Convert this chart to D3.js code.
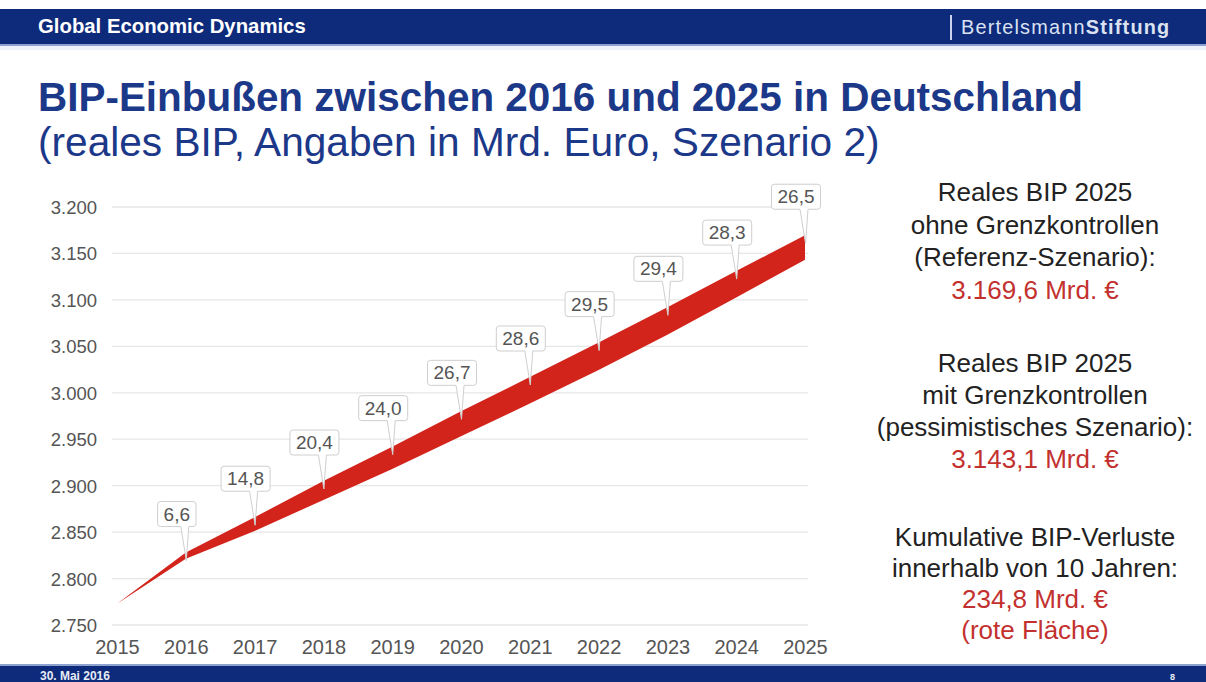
<!DOCTYPE html>
<html lang="de">
<head>
<meta charset="utf-8">
<title>BIP-Einbußen zwischen 2016 und 2025 in Deutschland</title>
<script src="https://cdn.jsdelivr.net/npm/d3@7"></script>
<style>
  html, body { margin: 0; padding: 0; background: #fff; }
  svg { display: block; }
  text { font-family: "Liberation Sans", Arial, Helvetica, sans-serif; }
</style>
</head>
<body>
<svg id="chart" width="1206" height="682"></svg>
<script>
// Jahre der Projektion
const years = [2015, 2016, 2017, 2018, 2019, 2020, 2021, 2022, 2023, 2024, 2025];
// Reales BIP ohne Grenzkontrollen (Referenz-Szenario), Mrd. Euro
const referenceGdp = [2773, 2828, 2866, 2905, 2942, 2980, 3017, 3054, 3092, 3131, 3169.6];
// Jährliche BIP-Einbußen durch Grenzkontrollen (Szenario 2), Mrd. Euro
const lossYears = [2016, 2017, 2018, 2019, 2020, 2021, 2022, 2023, 2024, 2025];
const losses = [6.6, 14.8, 20.4, 24.0, 26.7, 28.6, 29.5, 29.4, 28.3, 26.5];
// Achsenbeschriftungen
const yTicks = [2750, 2800, 2850, 2900, 2950, 3000, 3050, 3100, 3150, 3200];
const xTicks = years;
// Textblöcke rechts neben dem Diagramm
const sideBlocks = [
  { lines: ["Reales BIP 2025", "ohne Grenzkontrollen", "(Referenz-Szenario):"], value: "3.169,6 Mrd. €" },
  { lines: ["Reales BIP 2025", "mit Grenzkontrollen", "(pessimistisches Szenario):"], value: "3.143,1 Mrd. €" },
  { lines: ["Kumulative BIP-Verluste", "innerhalb von 10 Jahren:"], value: "234,8 Mrd. €", note: "(rote Fläche)" }
];

const de = d3.formatLocale({ decimal: ",", thousands: ".", grouping: [3], currency: ["", " €"] });
const fmtAxis = de.format(",.0f");
const fmtLoss = de.format(",.1f");

const svg = d3.select("#chart");
const W = 1206, H = 682;
const navy = "#0d2a7b";

// Text auf eine Zielbreite einpassen
function fitText(sel, width) {
  const len = sel.node().getComputedTextLength();
  const fs = parseFloat(sel.attr("font-size"));
  sel.attr("font-size", fs * width / len);
}

// Kopfzeile
svg.append("rect").attr("x", 0).attr("y", 9).attr("width", W).attr("height", 35).attr("fill", navy);
svg.append("rect").attr("x", 0).attr("y", 44).attr("width", W).attr("height", 2).attr("fill", "#8ea2cf");
svg.append("rect").attr("x", 0).attr("y", 46).attr("width", W).attr("height", 4).attr("fill", "#eef2fa");
const head = svg.append("text").attr("x", 38).attr("y", 33)
  .attr("fill", "#fff").attr("font-size", 17).attr("font-weight", "bold")
  .text("Global Economic Dynamics");
fitText(head, 268);
svg.append("rect").attr("x", 950).attr("y", 15).attr("width", 2).attr("height", 25).attr("fill", "#c9d3ec");
const brand = svg.append("text").attr("x", 961).attr("y", 34)
  .attr("fill", "#dbe2f2").attr("font-size", 18).attr("letter-spacing", 1.2);
brand.append("tspan").text("Bertelsmann");
brand.append("tspan").attr("font-weight", "bold").text("Stiftung");
fitText(brand, 212);

// Fußzeile
svg.append("rect").attr("x", 0).attr("y", 664).attr("width", W).attr("height", 2).attr("fill", "#8ea2cf");
svg.append("rect").attr("x", 0).attr("y", 666).attr("width", W).attr("height", H - 666).attr("fill", navy);
const foot = svg.append("text").attr("x", 40).attr("y", 680).attr("fill", "#e8ecf6")
  .attr("font-size", 9).attr("font-weight", "bold").text("30. Mai 2016");
fitText(foot, 70);
svg.append("text").attr("x", 1170).attr("y", 680).attr("fill", "#e8ecf6")
  .attr("font-size", 9).attr("font-weight", "bold").text("8");

// Titel
const title = svg.append("text").attr("x", 38).attr("y", 111)
  .attr("fill", "#1c3889").attr("font-size", 33).attr("font-weight", "bold")
  .text("BIP-Einbußen zwischen 2016 und 2025 in Deutschland");
fitText(title, 1045);
const subtitle = svg.append("text").attr("x", 38).attr("y", 156)
  .attr("fill", "#1c3889").attr("font-size", 33)
  .text("(reales BIP, Angaben in Mrd. Euro, Szenario 2)");
fitText(subtitle, 842);

// Skalen
const x = d3.scaleLinear().domain([2015, 2025]).range([117, 805]);
const y = d3.scaleLinear().domain([2750, 3200]).range([625, 207]);

// Gitternetz und y-Achse
svg.append("g").selectAll("line").data(yTicks).join("line")
  .attr("x1", 112).attr("x2", 808)
  .attr("y1", d => y(d)).attr("y2", d => y(d))
  .attr("stroke", "#e6e6e6").attr("stroke-width", 1.3);
const yAxis = d3.axisLeft(y).tickValues(yTicks).tickFormat(fmtAxis).tickSize(0).tickPadding(0);
const gy = svg.append("g").attr("transform", "translate(97,0)").call(yAxis);
gy.select(".domain").remove();
gy.selectAll("text").attr("fill", "#555").attr("font-size", 18.5)
  .attr("font-family", "'Liberation Sans', Arial, sans-serif").attr("dy", "0.35em");

// x-Achse
const xAxis = d3.axisBottom(x).tickValues(xTicks).tickFormat(d3.format("d")).tickSize(0).tickPadding(0);
const gx = svg.append("g").attr("transform", "translate(0,647)").call(xAxis);
gx.select(".domain").remove();
gx.selectAll("text").attr("fill", "#555").attr("font-size", 20)
  .attr("font-family", "'Liberation Sans', Arial, sans-serif").attr("dy", "0.35em");

// Rote Fläche zwischen Referenz- und pessimistischem Szenario
const bandData = years.map((yr, i) => {
  const k = lossYears.indexOf(yr);
  const loss = k >= 0 ? losses[k] : 0;
  return { year: yr, upper: referenceGdp[i], lower: referenceGdp[i] - loss };
});
const area = d3.area()
  .x(d => x(d.year))
  .y0(d => y(d.lower))
  .y1(d => y(d.upper));
svg.append("path").datum(bandData).attr("d", area).attr("fill", "#d3241c");

// Beschriftungen der jährlichen Einbußen
const callouts = svg.append("g");
lossYears.forEach((yr, k) => {
  const ref = referenceGdp[years.indexOf(yr)];
  const tipX = x(yr), tipY = y(ref) + 8;
  const bottom = y(ref) - 26, top = bottom - 25;
  const label = callouts.append("text")
    .attr("text-anchor", "middle").attr("fill", "#555").attr("font-size", 19)
    .text(fmtLoss(losses[k]));
  const tw = label.node().getComputedTextLength();
  const cx = tipX - 9;
  const x0 = cx - tw / 2 - 6, x1 = cx + tw / 2 + 6, r = 3;
  const p = d3.path();
  p.moveTo(x0 + r, top);
  p.lineTo(x1 - r, top);
  p.quadraticCurveTo(x1, top, x1, top + r);
  p.lineTo(x1, bottom - r);
  p.quadraticCurveTo(x1, bottom, x1 - r, bottom);
  p.lineTo(tipX + 3, bottom);
  p.lineTo(tipX + 0.5, tipY);
  p.lineTo(tipX - 5, bottom);
  p.lineTo(x0 + r, bottom);
  p.quadraticCurveTo(x0, bottom, x0, bottom - r);
  p.lineTo(x0, top + r);
  p.quadraticCurveTo(x0, top, x0 + r, top);
  p.closePath();
  callouts.insert("path", () => label.node()).attr("d", p.toString())
    .attr("fill", "#fff").attr("stroke", "#cfcfcf").attr("stroke-width", 1);
  label.attr("x", cx).attr("y", top + 19);
});

// Erläuterungen rechts
const side = svg.append("g").attr("text-anchor", "middle").attr("font-size", 26);
const blockStarts = [201, 372, 546];
const lineSteps = [32.6, 32, 31];
sideBlocks.forEach((b, i) => {
  let yy = blockStarts[i];
  const lh = lineSteps[i];
  b.lines.forEach(l => {
    side.append("text").attr("x", 1035).attr("y", yy).attr("fill", "#222").text(l);
    yy += lh;
  });
  side.append("text").attr("x", 1035).attr("y", yy).attr("fill", "#c3312f").text(b.value);
  yy += lh;
  if (b.note) {
    side.append("text").attr("x", 1035).attr("y", yy).attr("fill", "#c3312f").text(b.note);
  }
});
</script>
</body>
</html>
